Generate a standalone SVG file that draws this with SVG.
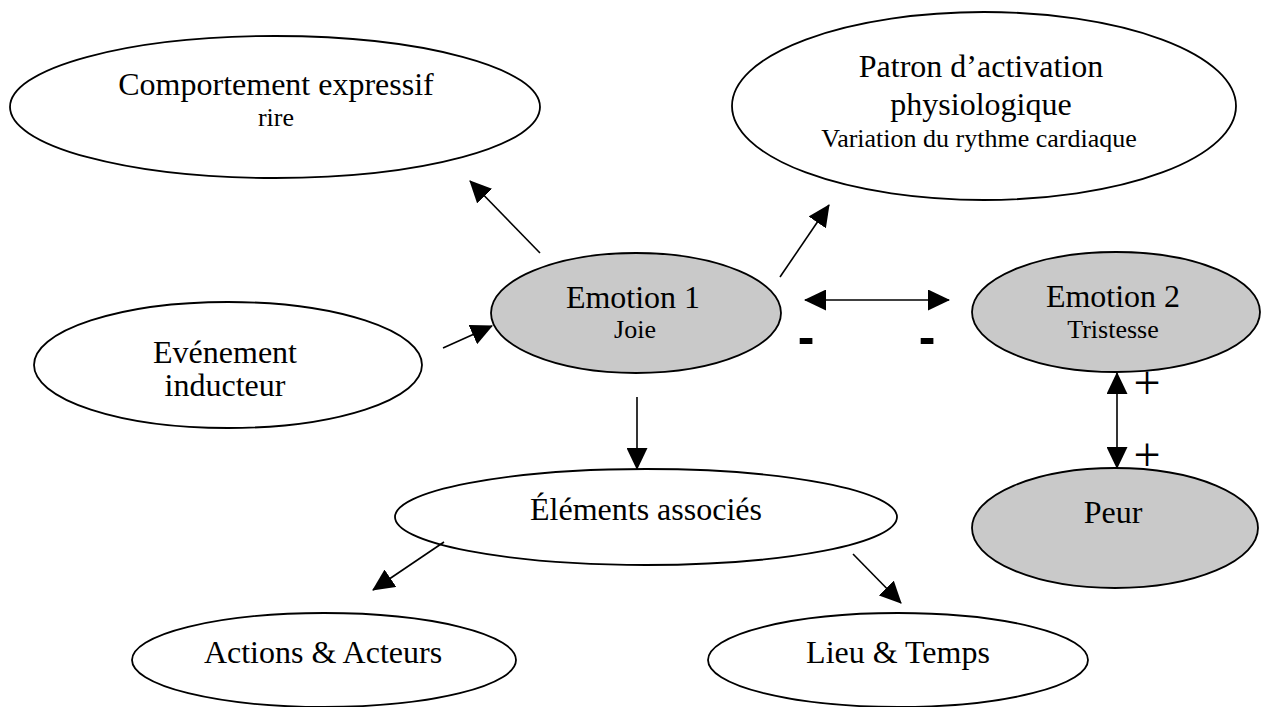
<svg xmlns="http://www.w3.org/2000/svg" width="1271" height="707" viewBox="0 0 1271 707">
<style>
.n{fill:#fff;stroke:#000;stroke-width:1.8}
.g{fill:#c9c9c9;stroke:#000;stroke-width:1.8}
.t{font-family:"Liberation Serif","Times New Roman",serif;font-size:32px;fill:#000;text-anchor:middle}
.s{font-family:"Liberation Serif","Times New Roman",serif;font-size:26px;fill:#000;text-anchor:middle}
.c{stroke:#000;stroke-width:1.6;fill:none}
.sign{font-family:"Liberation Serif","Times New Roman",serif;font-size:48px;fill:#000;text-anchor:middle}
.minus{font-family:"Liberation Sans",Arial,sans-serif;font-size:50px;font-weight:bold;fill:#000;text-anchor:middle}
</style>
<defs>
<marker id="ah" markerUnits="userSpaceOnUse" markerWidth="22" markerHeight="21" refX="21" refY="10.5" orient="auto-start-reverse">
<path d="M0,0 L22,10.5 L0,21 Z" fill="#000"/>
</marker>
</defs>
<rect width="1271" height="707" fill="#fff"/>
<g id="comportement">
<ellipse class="n" cx="275" cy="107" rx="265" ry="71"/>
<text class="t" x="276" y="95">Comportement expressif</text>
<text class="s" x="276" y="126">rire</text>
</g>
<g id="patron">
<ellipse class="n" cx="984" cy="106" rx="252" ry="94"/>
<text class="t" x="981" y="77">Patron d’activation</text>
<text class="t" x="981" y="115">physiologique</text>
<text class="s" x="979" y="147">Variation du rythme cardiaque</text>
</g>
<g id="evenement">
<ellipse class="n" cx="228" cy="365" rx="194" ry="63"/>
<text class="t" x="225" y="363">Evénement</text>
<text class="t" x="225" y="396">inducteur</text>
</g>
<g id="emotion1">
<ellipse class="g" cx="636" cy="313" rx="145" ry="60"/>
<text class="t" x="633" y="308">Emotion 1</text>
<text class="s" x="635" y="338">Joie</text>
</g>
<g id="emotion2">
<ellipse class="g" cx="1116" cy="312" rx="144" ry="60"/>
<text class="t" x="1113" y="307">Emotion 2</text>
<text class="s" x="1113" y="338">Tristesse</text>
</g>
<g id="peur">
<ellipse class="g" cx="1115" cy="528" rx="143" ry="60"/>
<text class="t" x="1113" y="523">Peur</text>
</g>
<g id="elements">
<ellipse class="n" cx="646" cy="517" rx="251" ry="48"/>
<text class="t" x="646" y="520">Éléments associés</text>
</g>
<g id="actions">
<ellipse class="n" cx="324" cy="660" rx="192" ry="47"/>
<text class="t" x="323" y="663">Actions &amp; Acteurs</text>
</g>
<g id="lieu">
<ellipse class="n" cx="898" cy="660" rx="190" ry="47"/>
<text class="t" x="898" y="663">Lieu &amp; Temps</text>
</g>
<g id="connectors">
<line class="c" x1="443" y1="348" x2="492" y2="326" marker-end="url(#ah)"/>
<line class="c" x1="540" y1="253" x2="470" y2="181" marker-end="url(#ah)"/>
<line class="c" x1="780" y1="277" x2="829" y2="205" marker-end="url(#ah)"/>
<line class="c" x1="805" y1="300" x2="949" y2="300" marker-start="url(#ah)" marker-end="url(#ah)"/>
<line class="c" x1="637" y1="397" x2="637" y2="469" marker-end="url(#ah)"/>
<line class="c" x1="444" y1="542" x2="373" y2="590" marker-end="url(#ah)"/>
<line class="c" x1="853" y1="554" x2="901" y2="603" marker-end="url(#ah)"/>
<line class="c" x1="1117" y1="373" x2="1117" y2="468" marker-start="url(#ah)" marker-end="url(#ah)"/>
<text class="minus" x="806" y="354">-</text>
<text class="minus" x="927" y="354">-</text>
<text class="sign" x="1147" y="399">+</text>
<text class="sign" x="1147" y="471">+</text>
</g>
</svg>
